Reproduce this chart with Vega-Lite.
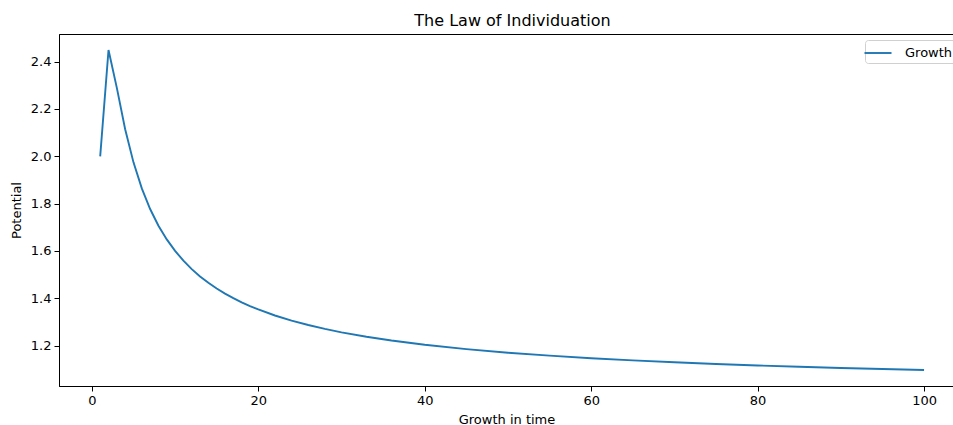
{
  "$schema": "https://vega.github.io/schema/vega-lite/v6.json",
  "autosize": {"type": "none"},
  "padding": {"left": 59, "top": 34, "right": 0, "bottom": 39},
  "width": 895,
  "height": 352,
  "title": {"text": "The Law of Individuation", "fontSize": 16, "fontWeight": "normal", "font": "DejaVu Sans", "color": "#000", "anchor": "middle", "dx": 6, "offset": 5},
  "config": {
    "view": {"stroke": "#000", "strokeWidth": 1},
    "font": "DejaVu Sans",
    "axis": {"grid": false, "domainColor": "#000", "tickColor": "#000", "labelColor": "#000", "titleColor": "#000", "labelFontSize": 13, "titleFontSize": 13, "titleFontWeight": "normal", "tickSize": 5, "labelPadding": 3}
  },
  "data": {"values": [
    {"t": 1, "p": 2.0, "s": "Growth"},
    {"t": 2, "p": 2.4495, "s": "Growth"},
    {"t": 3, "p": 2.2894, "s": "Growth"},
    {"t": 4, "p": 2.1147, "s": "Growth"},
    {"t": 5, "p": 1.9744, "s": "Growth"},
    {"t": 6, "p": 1.8644, "s": "Growth"},
    {"t": 7, "p": 1.7772, "s": "Growth"},
    {"t": 8, "p": 1.7067, "s": "Growth"},
    {"t": 9, "p": 1.6487, "s": "Growth"},
    {"t": 10, "p": 1.6001, "s": "Growth"},
    {"t": 11, "p": 1.5588, "s": "Growth"},
    {"t": 12, "p": 1.5232, "s": "Growth"},
    {"t": 13, "p": 1.4923, "s": "Growth"},
    {"t": 14, "p": 1.4651, "s": "Growth"},
    {"t": 15, "p": 1.4411, "s": "Growth"},
    {"t": 16, "p": 1.4196, "s": "Growth"},
    {"t": 17, "p": 1.4003, "s": "Growth"},
    {"t": 18, "p": 1.3829, "s": "Growth"},
    {"t": 19, "p": 1.3670, "s": "Growth"},
    {"t": 20, "p": 1.3526, "s": "Growth"},
    {"t": 22, "p": 1.3271, "s": "Growth"},
    {"t": 24, "p": 1.3054, "s": "Growth"},
    {"t": 26, "p": 1.2867, "s": "Growth"},
    {"t": 28, "p": 1.2703, "s": "Growth"},
    {"t": 30, "p": 1.2559, "s": "Growth"},
    {"t": 33, "p": 1.2371, "s": "Growth"},
    {"t": 36, "p": 1.2212, "s": "Growth"},
    {"t": 40, "p": 1.2033, "s": "Growth"},
    {"t": 45, "p": 1.1849, "s": "Growth"},
    {"t": 50, "p": 1.1698, "s": "Growth"},
    {"t": 55, "p": 1.1573, "s": "Growth"},
    {"t": 60, "p": 1.1465, "s": "Growth"},
    {"t": 65, "p": 1.1373, "s": "Growth"},
    {"t": 70, "p": 1.1293, "s": "Growth"},
    {"t": 75, "p": 1.1222, "s": "Growth"},
    {"t": 80, "p": 1.1159, "s": "Growth"},
    {"t": 85, "p": 1.1103, "s": "Growth"},
    {"t": 90, "p": 1.1053, "s": "Growth"},
    {"t": 95, "p": 1.1007, "s": "Growth"},
    {"t": 100, "p": 1.0966, "s": "Growth"}
  ]},
  "mark": {"type": "line", "strokeWidth": 1.9},
  "encoding": {
    "x": {"field": "t", "type": "quantitative", "title": "Growth in time",
      "scale": {"domain": [-3.95, 103.6], "nice": false, "zero": false},
      "axis": {"values": [0, 20, 40, 60, 80, 100], "titlePadding": 6}},
    "y": {"field": "p", "type": "quantitative", "title": "Potential",
      "scale": {"domain": [1.029, 2.517], "nice": false, "zero": false},
      "axis": {"values": [1.2, 1.4, 1.6, 1.8, 2.0, 2.2, 2.4], "format": ".1f", "titlePadding": 7}},
    "color": {"field": "s", "type": "nominal", "title": null,
      "scale": {"range": ["#1f77b4"]},
      "legend": {"orient": "none", "legendX": 806, "legendY": 6, "symbolType": "M-1.56,0H1.56", "symbolSize": 300, "symbolStrokeWidth": 1.9, "labelFontSize": 13, "labelColor": "#000", "strokeColor": "#d0d0d0", "cornerRadius": 3, "padding": 3, "fillColor": "#fff", "labelOffset": 17}}
  }
}
